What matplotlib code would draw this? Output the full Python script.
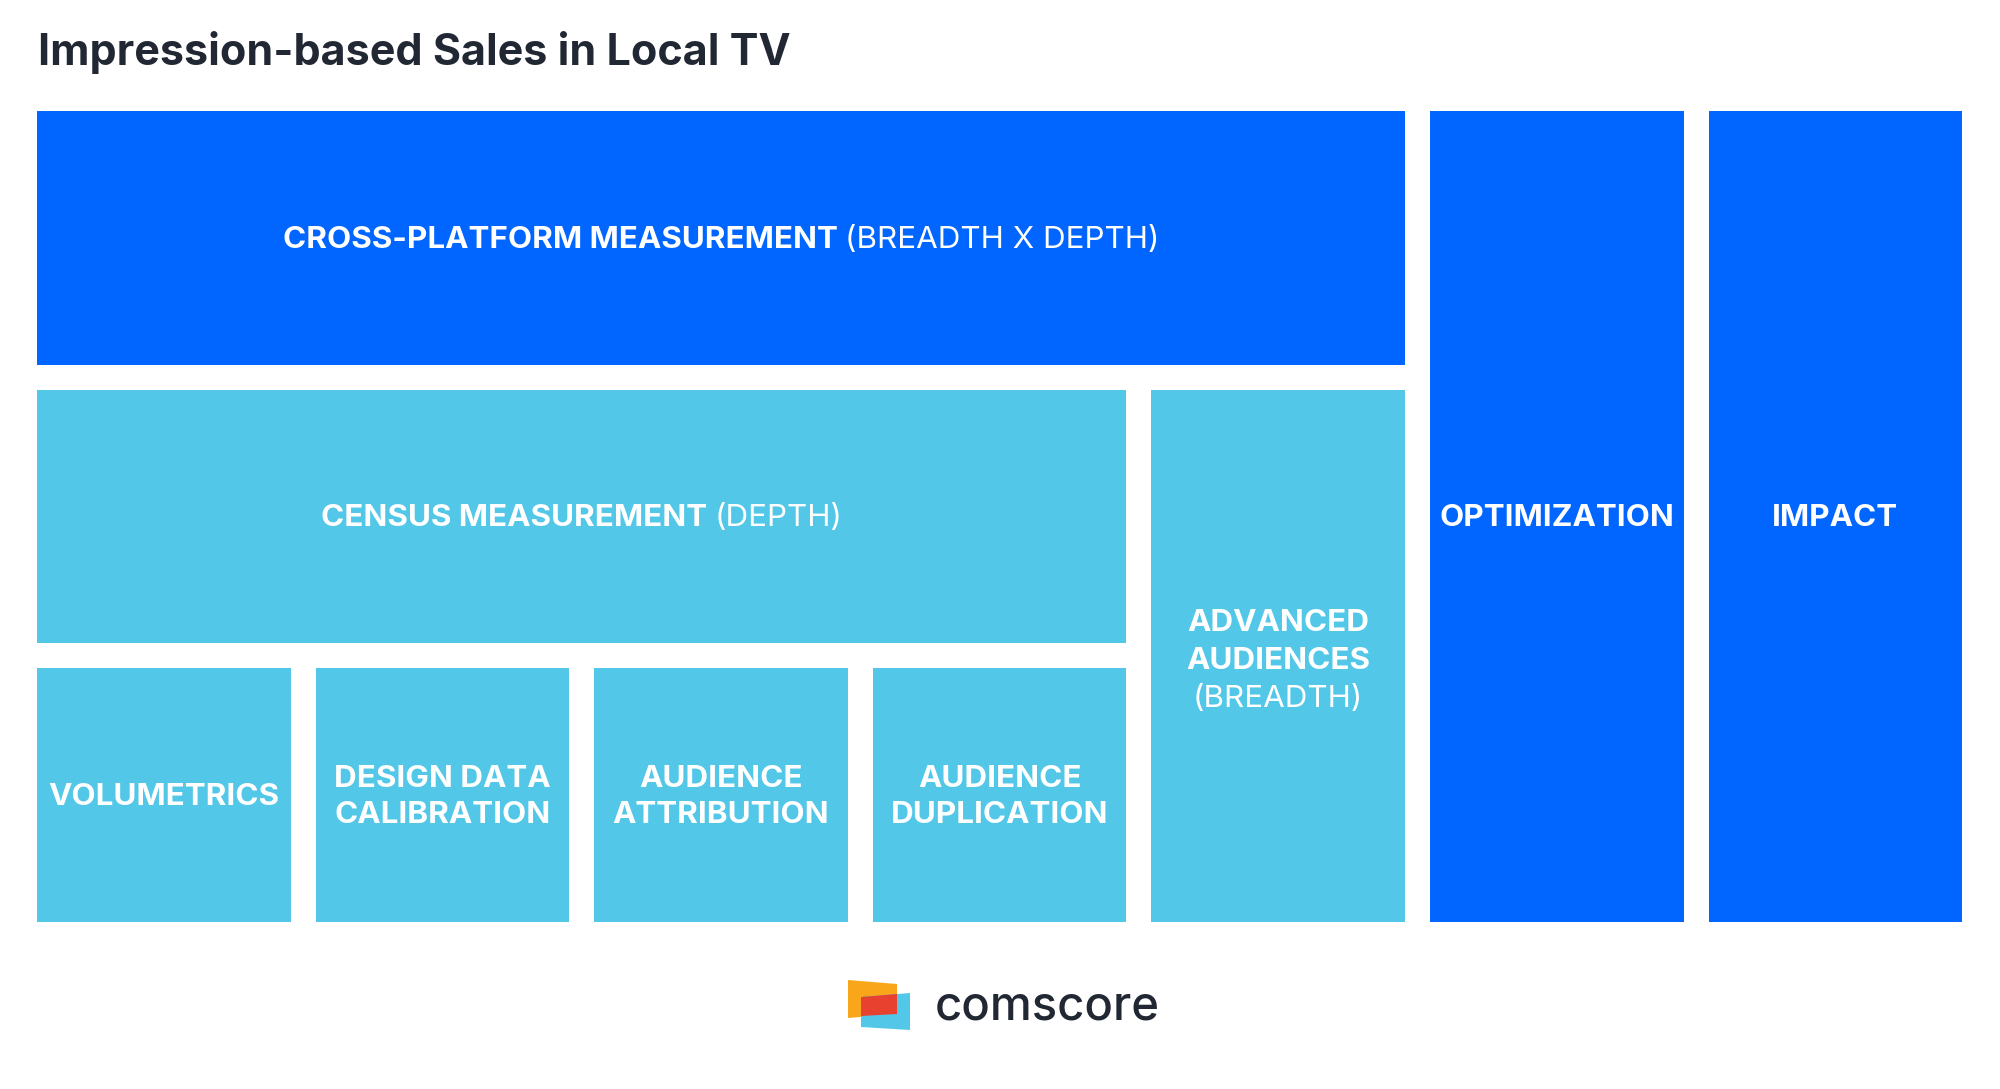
import matplotlib.pyplot as plt
from matplotlib.patches import Rectangle, Polygon

# tiles: label (bold part, light part), col, row, colspan, rowspan, color
tile_bold = ["CROSS-PLATFORM MEASUREMENT", "CENSUS MEASUREMENT", "VOLUMETRICS",
             "DESIGN DATA\nCALIBRATION", "AUDIENCE\nATTRIBUTION", "AUDIENCE\nDUPLICATION",
             "ADVANCED\nAUDIENCES", "OPTIMIZATION", "IMPACT"]
tile_light = ["(BREADTH X DEPTH)", "(DEPTH)", "", "", "", "", "(BREADTH)", "", ""]
tile_col = [0, 0, 0, 1, 2, 3, 4, 5, 6]
tile_row = [0, 1, 2, 2, 2, 2, 1, 0, 0]
tile_cspan = [5, 4, 1, 1, 1, 1, 1, 1, 1]
tile_rspan = [1, 1, 1, 1, 1, 1, 2, 3, 3]
tile_dark = [True, False, False, False, False, False, False, True, True]

DARK = "#0066FF"
LIGHT = "#52C7E8"
X0, Y0, STEP, SIZE = 37, 111, 278.6, 253.6
FONT = "Inter"
FS = 22.6

fig = plt.figure(figsize=(20, 10.89), dpi=100)
ax = fig.add_axes([0, 0, 1, 1])
ax.set_xlim(0, 2000)
ax.set_ylim(1089, 0)
ax.axis("off")

ax.text(38, 53, "Impression-based Sales in Local TV", fontsize=31, fontweight="bold",
        family=FONT, color="#222833", va="center", ha="left")

fig.canvas.draw()
r = fig.canvas.get_renderer()

for i in range(len(tile_bold)):
    x = X0 + tile_col[i] * STEP
    y = Y0 + tile_row[i] * STEP
    w = tile_cspan[i] * STEP - (STEP - SIZE)
    h = tile_rspan[i] * STEP - (STEP - SIZE)
    ax.add_patch(Rectangle((x, y), w, h, color=DARK if tile_dark[i] else LIGHT, lw=0))
    cx, cy = x + w / 2, y + h / 2 + 2
    b, l = tile_bold[i], tile_light[i]
    if l and "\n" in b:
        # stacked: bold lines then light line
        lines = b.split("\n") + [l]
        n = len(lines)
        for k, ln in enumerate(lines):
            ty = cy + 3 + (k - (n - 1) / 2) * 38
            ax.text(cx, ty, ln, fontsize=FS, family=FONT, color="white", ha="center", va="center",
                    fontweight="bold" if k < n - 1 else "normal")
    elif l:
        t1 = ax.text(0, 0, b + " ", fontsize=FS, family=FONT, fontweight="bold")
        t2 = ax.text(0, 0, l, fontsize=FS, family=FONT, fontweight="normal")
        w1 = t1.get_window_extent(r).width
        w2 = t2.get_window_extent(r).width
        t1.remove(); t2.remove()
        left = cx - (w1 + w2) / 2
        ax.text(left, cy, b + " ", fontsize=FS, family=FONT, fontweight="bold", color="white",
                ha="left", va="center")
        ax.text(left + w1, cy, l, fontsize=FS, family=FONT, fontweight="normal", color="white",
                ha="left", va="center")
    else:
        ax.text(cx, cy, b, fontsize=FS, family=FONT, fontweight="bold", color="white",
                ha="center", va="center", linespacing=1.35)

# comscore logo
ax.add_patch(Polygon([(848, 980), (897, 984), (897, 1014), (848, 1018)], color="#F9A61A", lw=0))
ax.add_patch(Polygon([(861, 997), (910, 993), (910, 1030), (861, 1027)], color="#52C7E8", lw=0))
ax.add_patch(Polygon([(861, 997), (897, 994), (897, 1014), (861, 1016)], color="#E8412F", lw=0))
ax.text(935, 1007, "comscore", fontsize=34, family=FONT, fontweight="medium", color="#222833",
        ha="left", va="center")

fig.savefig("out.png", dpi=100, facecolor="white")
